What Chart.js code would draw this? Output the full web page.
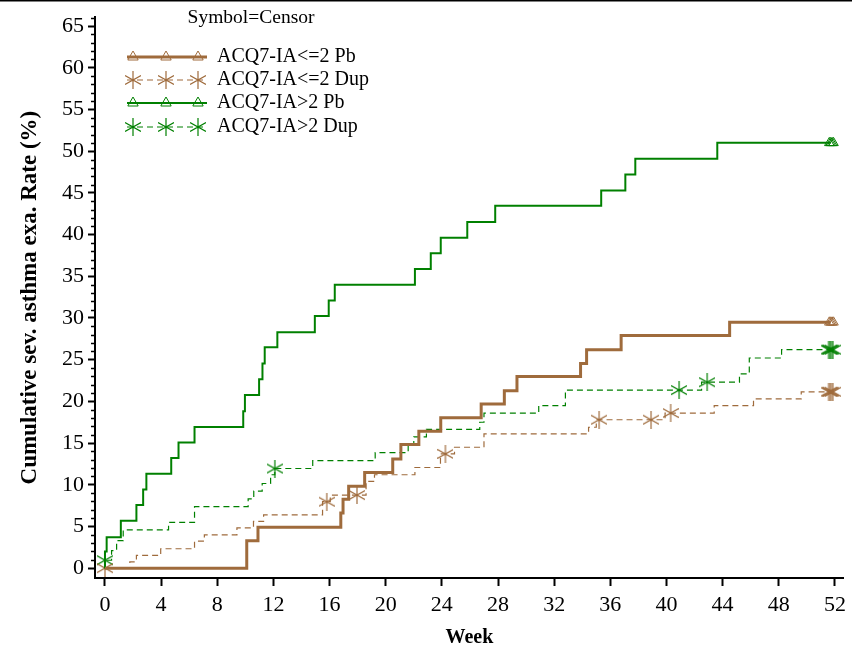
<!DOCTYPE html>
<html>
<head>
<meta charset="utf-8">
<script src="https://cdn.jsdelivr.net/npm/chart.js@4.4.1/dist/chart.umd.min.js"></script>
<style>
  html, body { margin: 0; padding: 0; background: #fff; }
  #chart { display: block; }
</style>
</head>
<body>
<canvas id="chart" width="852" height="651"></canvas>
<script>
const weekTicks = [0, 4, 8, 12, 16, 20, 24, 28, 32, 36, 40, 44, 48, 52];
const rateTicks = [0, 5, 10, 15, 20, 25, 30, 35, 40, 45, 50, 55, 60, 65];
const seriesNames = ['ACQ7-IA<=2 Pb', 'ACQ7-IA<=2 Dup', 'ACQ7-IA>2 Pb', 'ACQ7-IA>2 Dup'];
const legendTitle = 'Symbol=Censor';

// ACQ7-IA<=2, placebo
const lePbWeek = [0, 10.1, 10.9, 16.8, 16.96, 17.36, 18.5, 20.5, 21.08, 22.36, 23.92, 26.8, 28.45, 29.35, 33.88, 34.31, 36.77, 44.5, 51.7];
const lePbRate = [0, 3.3, 4.9, 6.6, 8.25, 9.83, 11.48, 13.1, 14.84, 16.42, 18.03, 19.69, 21.27, 22.97, 24.55, 26.2, 27.9, 29.48, 29.48];
const lePbCensorWeek = [51.6, 51.7, 51.8, 51.9];
const lePbCensorRate = [29.48, 29.48, 29.48, 29.48];

// ACQ7-IA<=2, dupilumab
const leDupWeek = [0, 1.77, 2.24, 3.97, 6.38, 7.08, 9.4, 10.58, 11.3, 15.5, 16.05, 18.6, 19.2, 22.08, 23.9, 24.9, 27.0, 34.45, 35.0, 39.9, 43.4, 46.2, 49.6, 51.7];
const leDupRate = [0, 0.75, 1.54, 2.33, 3.24, 3.99, 4.82, 5.6, 6.39, 7.97, 8.76, 10.4, 11.2, 12.07, 13.7, 14.5, 16.1, 16.9, 17.8, 18.6, 19.5, 20.3, 21.15, 21.15];
const leDupCensorWeek = [0, 15.8, 17.95, 24.25, 35.2, 38.9, 40.3, 51.55, 51.65, 51.75, 51.85];
const leDupCensorRate = [0, 7.97, 8.76, 13.7, 17.8, 17.8, 18.6, 21.15, 21.15, 21.15, 21.15];

// ACQ7-IA>2, placebo
const gtPbWeek = [0, 0, 0.12, 1.13, 2.24, 2.72, 2.95, 4.72, 5.24, 6.38, 9.85, 9.97, 10.98, 11.22, 11.38, 12.28, 14.95, 15.94, 16.37, 22.08, 23.21, 23.92, 25.81, 27.8, 35.35, 37.07, 37.78, 43.62, 51.7];
const gtPbRate = [0, 2.0, 3.7, 5.68, 7.58, 9.43, 11.33, 13.2, 15.07, 16.93, 18.83, 20.76, 22.65, 24.55, 26.48, 28.3, 30.23, 32.09, 33.98, 35.87, 37.77, 39.63, 41.5, 43.45, 45.3, 47.2, 49.1, 51.0, 51.0];
const gtPbCensorWeek = [51.6, 51.7, 51.8, 51.9];
const gtPbCensorRate = [51.0, 51.0, 51.0, 51.0];

// ACQ7-IA>2, dupilumab
const gtDupWeek = [0, 0, 0.47, 0.83, 1.3, 4.53, 6.38, 10.2, 10.6, 11.2, 11.8, 12.1, 14.8, 19.25, 21.6, 22.0, 22.9, 26.7, 27.0, 30.9, 32.8, 42.5, 45.2, 45.9, 48.2, 51.7];
const gtDupRate = [0, 0.95, 2.1, 3.3, 4.58, 5.49, 7.38, 8.3, 9.24, 10.15, 11.2, 11.95, 12.9, 13.85, 14.88, 15.75, 16.65, 17.5, 18.6, 19.5, 21.35, 22.3, 23.3, 25.2, 26.2, 26.2];
const gtDupCensorWeek = [0, 12.1, 40.9, 42.9, 51.55, 51.65, 51.75, 51.85];
const gtDupCensorRate = [0.95, 11.95, 21.35, 22.3, 26.2, 26.2, 26.2, 26.2];

const BROWN = '#9F6B3C';
const GREEN = '#008000';
const SERIF = "'Liberation Serif', 'DejaVu Serif', serif";
const DASH = [6, 4];

Chart.defaults.font.family = SERIF;
Chart.defaults.color = '#000';

function toPoints(xs, ys) {
    return xs.map((x, i) => ({ x: x, y: ys[i] }));
}

// asterisk used for censored dupilumab patients
function makeStar(color) {
    const c = document.createElement('canvas');
    c.width = 16;
    c.height = 18;
    const g = c.getContext('2d');
    g.strokeStyle = color;
    g.lineWidth = 1.2;
    g.beginPath();
    g.moveTo(8, 0); g.lineTo(8, 18);
    g.moveTo(0, 4.5); g.lineTo(16, 13.5);
    g.moveTo(0, 13.5); g.lineTo(16, 4.5);
    g.stroke();
    return c;
}

const brownStar = makeStar(BROWN);
const greenStar = makeStar(GREEN);

function stepLine(label, xs, ys, color, width, dashed) {
    return {
        label: label,
        data: toPoints(xs, ys),
        borderColor: color,
        borderWidth: width,
        borderDash: dashed ? DASH : [],
        stepped: 'before',
        pointRadius: 0,
        fill: false
    };
}

function censorMarks(xs, ys, color, style) {
    return {
        label: 'censor',
        data: toPoints(xs, ys),
        showLine: false,
        borderColor: color,
        backgroundColor: 'rgba(0,0,0,0)',
        pointStyle: style,
        pointRadius: 5.5,
        pointBorderWidth: 1,
        pointBorderColor: color,
        pointBackgroundColor: 'rgba(0,0,0,0)'
    };
}

const legendRows = [
    { color: BROWN, width: 3, dashed: false, marker: 'triangle' },
    { color: BROWN, width: 1.2, dashed: true, marker: brownStar },
    { color: GREEN, width: 2, dashed: false, marker: 'triangle' },
    { color: GREEN, width: 1.2, dashed: true, marker: greenStar }
];

function drawTriangle(ctx, x, y, r, color) {
    ctx.save();
    ctx.strokeStyle = color;
    ctx.lineWidth = 1;
    ctx.setLineDash([]);
    ctx.beginPath();
    ctx.moveTo(x, y - r);
    ctx.lineTo(x + r * 0.866, y + r / 2);
    ctx.lineTo(x - r * 0.866, y + r / 2);
    ctx.closePath();
    ctx.stroke();
    ctx.restore();
}

const legendAndFrame = {
    id: 'legendAndFrame',
    afterDraw(chart) {
        const ctx = chart.ctx;
        const ys = chart.scales.y;
        const left = chart.chartArea.left;

        ctx.save();
        // top rule of the figure
        ctx.fillStyle = '#000';
        ctx.fillRect(0, 0, chart.width, 1.5);

        // minor ticks on the rate axis
        ctx.strokeStyle = '#000';
        ctx.lineWidth = 1.5;
        ctx.beginPath();
        for (let v = 0; v <= 66; v++) {
            if (v % 5 === 0) continue;
            const py = Math.round(ys.getPixelForValue(v)) + 0.5;
            ctx.moveTo(left - 4, py);
            ctx.lineTo(left, py);
        }
        ctx.stroke();

        // legend
        ctx.fillStyle = '#000';
        ctx.font = '19.5px ' + SERIF;
        ctx.textAlign = 'center';
        ctx.textBaseline = 'middle';
        ctx.fillText(legendTitle, 251, 18);

        ctx.font = '20px ' + SERIF;
        ctx.textAlign = 'left';
        const rowY = [57, 80, 103, 127];
        const markX = [133, 166, 198];
        legendRows.forEach((row, i) => {
            const y = rowY[i];
            ctx.save();
            ctx.strokeStyle = row.color;
            ctx.lineWidth = row.width;
            ctx.setLineDash(row.dashed ? DASH : []);
            ctx.beginPath();
            ctx.moveTo(127, y);
            ctx.lineTo(207, y);
            ctx.stroke();
            ctx.restore();
            markX.forEach(mx => {
                if (row.marker === 'triangle') {
                    drawTriangle(ctx, mx, y, 6, row.color);
                } else {
                    ctx.drawImage(row.marker, mx - 8, y - 9);
                }
            });
            ctx.fillStyle = '#000';
            ctx.fillText(seriesNames[i], 217, y);
        });
        ctx.restore();
    }
};

new Chart(document.getElementById('chart'), {
    type: 'line',
    data: {
        datasets: [
            stepLine(seriesNames[0], lePbWeek, lePbRate, BROWN, 3, false),
            stepLine(seriesNames[1], leDupWeek, leDupRate, BROWN, 1.2, true),
            stepLine(seriesNames[2], gtPbWeek, gtPbRate, GREEN, 2, false),
            stepLine(seriesNames[3], gtDupWeek, gtDupRate, GREEN, 1.2, true),
            censorMarks(lePbCensorWeek, lePbCensorRate, BROWN, 'triangle'),
            censorMarks(leDupCensorWeek, leDupCensorRate, BROWN, brownStar),
            censorMarks(gtPbCensorWeek, gtPbCensorRate, GREEN, 'triangle'),
            censorMarks(gtDupCensorWeek, gtDupCensorRate, GREEN, greenStar)
        ]
    },
    options: {
        responsive: false,
        animation: false,
        layout: { padding: { top: 10, right: 4, left: 0, bottom: 0 } },
        plugins: {
            legend: { display: false },
            tooltip: { enabled: false }
        },
        scales: {
            x: {
                type: 'linear',
                min: -0.71,
                max: 52.64,
                afterBuildTicks: scale => { scale.ticks = weekTicks.map(v => ({ value: v })); },
                afterFit: scale => { scale.height = 73; },
                grid: { drawOnChartArea: false, tickLength: 8, tickColor: '#000', tickWidth: 2 },
                border: { color: '#000', width: 2 },
                ticks: { color: '#000', font: { size: 22 }, padding: 6, maxRotation: 0, autoSkip: false },
                title: {
                    display: true,
                    text: 'Week',
                    color: '#000',
                    font: { size: 20, weight: 'bold' },
                    padding: { top: 0, bottom: 1 }
                }
            },
            y: {
                type: 'linear',
                min: -1.18,
                max: 66.07,
                afterBuildTicks: scale => { scale.ticks = rateTicks.map(v => ({ value: v })); },
                afterFit: scale => { scale.width = 95; },
                grid: { drawOnChartArea: false, tickLength: 7, tickColor: '#000', tickWidth: 2 },
                border: { color: '#000', width: 2 },
                ticks: { color: '#000', font: { size: 22 }, padding: 4 },
                title: {
                    display: true,
                    text: 'Cumulative sev. asthma exa. Rate (%)',
                    color: '#000',
                    font: { size: 23, weight: 'bold' },
                    padding: { top: 16, bottom: 0 }
                }
            }
        }
    },
    plugins: [legendAndFrame]
});
</script>
</body>
</html>
